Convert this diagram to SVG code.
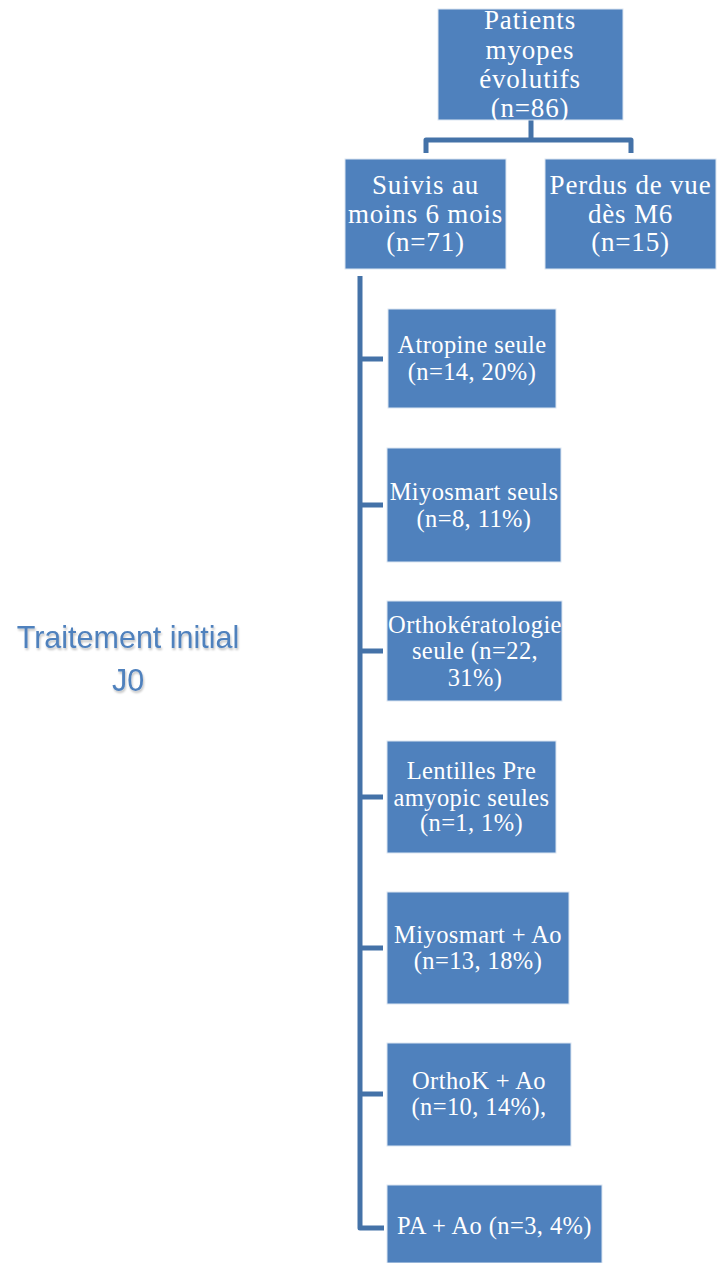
<svg xmlns="http://www.w3.org/2000/svg" width="717" height="1263" viewBox="0 0 717 1263">
<defs>
<style>
.box{fill:#4F81BD;stroke:#DCE6F2;stroke-width:1}
.t{font-family:"Liberation Serif","Times New Roman",serif;fill:#FFFFFF;text-anchor:middle}
.big{font-size:27px;letter-spacing:0.8px}
.sm{font-size:24.5px;letter-spacing:0.4px}
.conn{fill:none;stroke:#4472A8;stroke-width:5;stroke-linejoin:round;stroke-linecap:butt}
.lbl{font-family:"Liberation Sans",Arial,sans-serif;font-size:30.5px;fill:#4F81BD;text-anchor:middle}
</style>
<filter id="sh" x="-10%" y="-20%" width="120%" height="140%">
<feGaussianBlur in="SourceAlpha" stdDeviation="1.2"/>
<feOffset dx="1" dy="1.5" result="b"/>
<feComponentTransfer><feFuncA type="linear" slope="0.25"/></feComponentTransfer>
<feMerge><feMergeNode/><feMergeNode in="SourceGraphic"/></feMerge>
</filter>
</defs>
<rect width="717" height="1263" fill="#FFFFFF"/>
<g id="connectors">
<path class="conn" d="M531,120 V140 M426,153 V140 H631 V153"/>
<path class="conn" d="M360,276 V1228 H384"/>
<path class="conn" d="M360,359 H383 M360,505 H383 M360,651 H383 M360,797 H383 M360,948 H383 M360,1094 H383"/>
</g>
<g id="label-traitement" filter="url(#sh)">
<text class="lbl" x="128" y="648">Traitement initial</text>
<text class="lbl" x="128" y="691">J0</text>
</g>
<g id="n-patients">
<rect class="box" x="438" y="9" width="185" height="111"/>
<text class="t big" x="530" y="29">Patients</text>
<text class="t big" x="530" y="59">myopes</text>
<text class="t big" x="530" y="88">évolutifs</text>
<text class="t big" x="530" y="117">(n=86)</text>
</g>
<g id="n-suivis">
<rect class="box" x="345" y="159" width="161" height="110"/>
<text class="t big" x="425.5" y="194">Suivis au</text>
<text class="t big" x="425.5" y="223">moins 6 mois</text>
<text class="t big" x="425.5" y="251">(n=71)</text>
</g>
<g id="n-perdus">
<rect class="box" x="545" y="159" width="171" height="110"/>
<text class="t big" x="630.5" y="194">Perdus de vue</text>
<text class="t big" x="630.5" y="223">dès M6</text>
<text class="t big" x="630.5" y="251">(n=15)</text>
</g>
<g id="n-atropine">
<rect class="box" x="388" y="309" width="168" height="99"/>
<text class="t sm" x="472" y="353">Atropine seule</text>
<text class="t sm" x="472" y="380">(n=14, 20%)</text>
</g>
<g id="n-miyosmart">
<rect class="box" x="387" y="448" width="174" height="114"/>
<text class="t sm" x="474" y="500">Miyosmart seuls</text>
<text class="t sm" x="474" y="527">(n=8, 11%)</text>
</g>
<g id="n-ortho">
<rect class="box" x="387" y="601" width="175" height="100"/>
<text class="t sm" x="475" y="633">Orthokératologie</text>
<text class="t sm" x="475" y="659">seule (n=22,</text>
<text class="t sm" x="475" y="686">31%)</text>
</g>
<g id="n-lentilles">
<rect class="box" x="387" y="741" width="169" height="112"/>
<text class="t sm" x="471.5" y="779">Lentilles Pre</text>
<text class="t sm" x="471.5" y="806">amyopic seules</text>
<text class="t sm" x="471.5" y="831">(n=1, 1%)</text>
</g>
<g id="n-miyosmart-ao">
<rect class="box" x="387" y="892" width="182" height="112"/>
<text class="t sm" x="478" y="943">Miyosmart + Ao</text>
<text class="t sm" x="478" y="969">(n=13, 18%)</text>
</g>
<g id="n-orthok-ao">
<rect class="box" x="387" y="1043" width="184" height="103"/>
<text class="t sm" x="479" y="1089">OrthoK + Ao</text>
<text class="t sm" x="479" y="1115">(n=10, 14%),</text>
</g>
<g id="n-pa-ao">
<rect class="box" x="387" y="1185" width="215" height="78"/>
<text class="t sm" x="494.5" y="1234">PA + Ao (n=3, 4%)</text>
</g>
</svg>
